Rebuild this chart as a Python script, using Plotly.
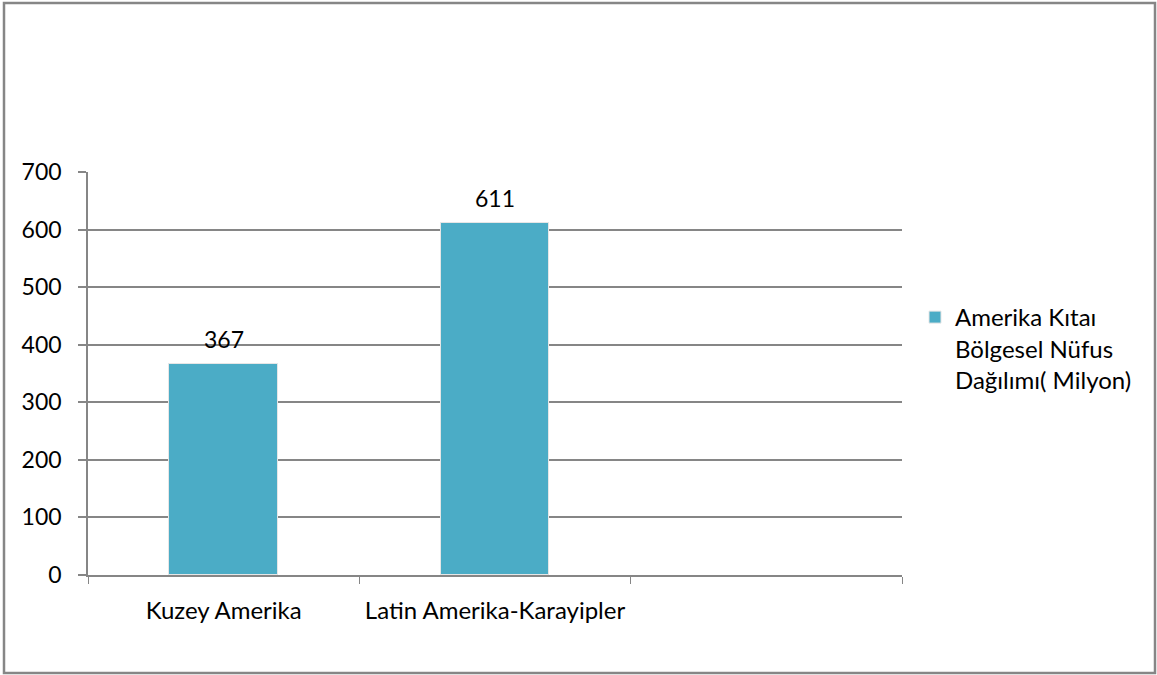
import plotly.graph_objects as go

categories = ["Kuzey Amerika", "Latin Amerika-Karayipler", " "]
values = [367, 611, None]
value_labels = ["367", "611", ""]
series_name = "Amerika Kıtaı<br>Bölgesel Nüfus<br>Dağılımı( Milyon)"
y_ticks = [0, 100, 200, 300, 400, 500, 600, 700]

FONT = "Lato"
FS = 23
GRAY = "#868686"
BAR = "#4BACC6"

fig = go.Figure()
fig.add_trace(go.Bar(
    x=categories, y=values, name=series_name,
    marker=dict(color=BAR, line=dict(color="#e6e6e6", width=1)),
    width=0.4,
    showlegend=True,
))

for c, v, t in zip(categories, values, value_labels):
    if v is not None:
        fig.add_annotation(x=c, y=v, text=t, showarrow=False,
                           yanchor="bottom", yshift=9,
                           font=dict(family=FONT, size=FS, color="#000000"))

fig.update_layout(
    width=1157, height=675,
    margin=dict(l=88, r=255, t=172, b=100, autoexpand=False),
    paper_bgcolor="white", plot_bgcolor="white",
    font=dict(family=FONT, size=FS, color="#000000"),
    bargap=0,
    xaxis=dict(
        type="category", range=[-0.5, 2.5],
        tickson="boundaries", ticks="outside", ticklen=7, tickcolor=GRAY, tickwidth=1,
        showline=True, linecolor=GRAY, linewidth=1.5,
        showgrid=False, zeroline=False,
        tickfont=dict(family=FONT, size=24),
        ticklabelstandoff=13,
    ),
    yaxis=dict(
        range=[0, 700], tickvals=y_ticks,
        ticks="outside", ticklen=8, tickcolor=GRAY, tickwidth=1.5,
        showline=True, linecolor=GRAY, linewidth=1.5,
        showgrid=True, gridcolor=GRAY, gridwidth=1.5,
        zeroline=False,
        tickfont=dict(family=FONT, size=FS),
        ticklabelstandoff=12,
    ),
    legend=dict(
        x=(915 - 88) / 814, y=(575 - 295) / 403, xanchor="left", yanchor="top",
        font=dict(family=FONT, size=24), valign="top",
        itemwidth=30, tracegroupgap=0,
    ),
    shapes=[dict(
        type="rect", xref="paper", yref="paper",
        x0=(4 - 88) / 814, x1=(1155 - 88) / 814,
        y0=(575 - 673) / 403, y1=(575 - 3) / 403,
        line=dict(color=GRAY, width=2.5), fillcolor="rgba(0,0,0,0)",
        layer="below",
    )],
)

fig.write_html("out.html", config={"displayModeBar": False},
               post_script="document.body.style.margin='0';")
